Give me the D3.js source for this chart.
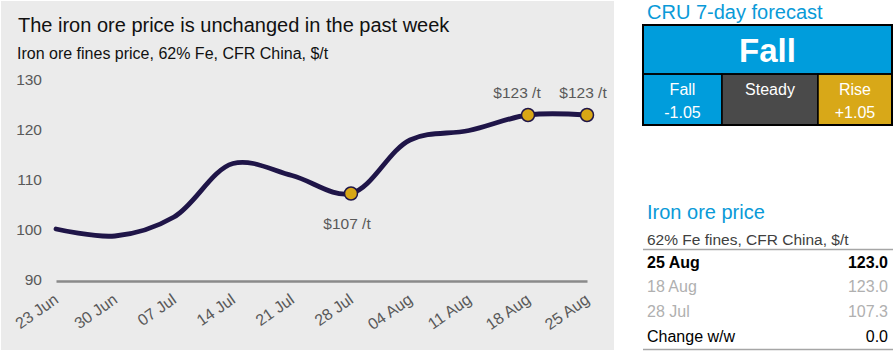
<!DOCTYPE html>
<html><head><meta charset="utf-8">
<script src="https://cdn.jsdelivr.net/npm/d3@7"></script>
<style>
html,body{margin:0;padding:0;background:#fff;}
svg{display:block;font-family:"Liberation Sans",Arial,sans-serif;}
</style></head>
<body>
<svg id="c" width="895" height="359"></svg>
<script>
// ---- data ----
const dates = ["2023-06-23","2023-06-30","2023-07-07","2023-07-14","2023-07-21","2023-07-28","2023-08-04","2023-08-11","2023-08-18","2023-08-25"];
const tickLabels = ["23 Jun","30 Jun","07 Jul","14 Jul","21 Jul","28 Jul","04 Aug","11 Aug","18 Aug","25 Aug"];
const prices = [100.2, 98.8, 102.6, 113.3, 110.9, 107.3, 118.0, 119.9, 123.0, 123.0];
const yTicks = [90, 100, 110, 120, 130];
const markedIdx = [5, 8, 9];
const markLabels = ["$107 /t", "$123 /t", "$123 /t"];
const markPos = ["below", "above", "above"];
const markDx = [-4, -11, -4];
const forecastTitle = "CRU 7-day forecast";
const forecastMain = "Fall";
const forecastCells = [["Fall","-1.05"],["Steady",""],["Rise","+1.05"]];
const tableTitle = "Iron ore price";
const tableSub = "62% Fe fines, CFR China, $/t";
const tableRows = [["25 Aug","123.0"],["18 Aug","123.0"],["28 Jul","107.3"],["Change w/w","0.0"]];

const svg = d3.select("#c");
const parse = d3.timeParse("%Y-%m-%d");
const data = dates.map((d,i)=>({date:parse(d), v:prices[i], label:tickLabels[i]}));
const FF = "Liberation Sans, Arial, sans-serif";

// panel
svg.append("rect").attr("x",1).attr("y",1).attr("width",613).attr("height",349).attr("fill","#ebebeb");

svg.append("text").attr("x",18).attr("y",32).attr("font-size",20).attr("fill","#111")
  .text("The iron ore price is unchanged in the past week");
svg.append("text").attr("x",17).attr("y",59).attr("font-size",16).attr("fill","#111")
  .text("Iron ore fines price, 62% Fe, CFR China, $/t");

const x = d3.scaleTime().domain(d3.extent(data,d=>d.date)).range([56,587]);
const y = d3.scaleLinear().domain([90,130]).range([280,80]);

// y axis labels
const ya = svg.append("g").attr("transform","translate(42,0)")
  .call(d3.axisLeft(y).tickValues(yTicks).tickSize(0).tickPadding(0).tickFormat(d3.format("d")));
ya.select(".domain").remove();
ya.selectAll("text").attr("font-size",15.5).attr("fill","#595959").attr("font-family",FF);

// x axis
const xa = svg.append("g").attr("transform","translate(0,281)")
  .call(d3.axisBottom(x).tickValues(data.map(d=>d.date)).tickSize(0).tickFormat((d,i)=>tickLabels[i]));
xa.select(".domain").attr("stroke","#8a8a8a").attr("stroke-width",2.5);
xa.selectAll("text").attr("font-size",16).attr("fill","#595959").attr("font-family",FF)
  .attr("text-anchor","end").attr("dy",null).attr("y",0)
  .attr("transform","translate(3,21) rotate(-35)");

// line
const line = d3.line().x(d=>x(d.date)).y(d=>y(d.v)).curve(d3.curveCatmullRom.alpha(0.5));
svg.append("path").datum(data).attr("d",line).attr("fill","none")
  .attr("stroke","#1f1548").attr("stroke-width",4.8).attr("stroke-linecap","round");

// markers
markedIdx.forEach((idx,k)=>{
  const d = data[idx];
  svg.append("circle").attr("cx",x(d.date)).attr("cy",y(d.v)).attr("r",6.5)
    .attr("fill","#d9a715").attr("stroke","#1f1548").attr("stroke-width",1.5);
  svg.append("text").attr("x",x(d.date)+markDx[k])
    .attr("y", markPos[k]==="above" ? y(d.v)-17 : y(d.v)+35)
    .attr("text-anchor","middle").attr("font-size",15.5).attr("fill","#595959").text(markLabels[k]);
});

// forecast box
svg.append("text").attr("x",647).attr("y",19).attr("font-size",20).attr("fill","#0a9ad8").text(forecastTitle);
const bx=643, bw=249, by=25;
svg.append("rect").attr("x",bx).attr("y",by).attr("width",bw).attr("height",49).attr("fill","#009ddc");
svg.append("text").attr("x",bx+bw/2).attr("y",62).attr("text-anchor","middle").attr("font-size",33)
  .attr("font-weight","bold").attr("fill","#fff").text(forecastMain);
const cellX=[643,722,818,892];
const cellFill=["#009ddc","#4a4a4a","#d8a818"];
forecastCells.forEach((c,i)=>{
  svg.append("rect").attr("x",cellX[i]).attr("y",74).attr("width",cellX[i+1]-cellX[i]).attr("height",51)
    .attr("fill",cellFill[i]).attr("stroke","#000").attr("stroke-width",1.5);
  const cx=(cellX[i]+cellX[i+1])/2;
  svg.append("text").attr("x",cx).attr("y",95).attr("text-anchor","middle").attr("font-size",16).attr("fill","#fff").text(c[0]);
  svg.append("text").attr("x",cx).attr("y",118).attr("text-anchor","middle").attr("font-size",16).attr("fill","#fff").text(c[1]);
});
svg.append("rect").attr("x",bx).attr("y",by).attr("width",bw).attr("height",100).attr("fill","none")
  .attr("stroke","#000").attr("stroke-width",2);
svg.append("line").attr("x1",bx).attr("x2",bx+bw).attr("y1",74).attr("y2",74).attr("stroke","#000").attr("stroke-width",1.5);

// table
svg.append("text").attr("x",647).attr("y",219).attr("font-size",20).attr("fill","#0a9ad8").text(tableTitle);
svg.append("text").attr("x",647).attr("y",245).attr("font-size",15.5).attr("fill","#404040").text(tableSub);
svg.append("line").attr("x1",643).attr("x2",893).attr("y1",249.5).attr("y2",249.5).attr("stroke","#a6a6a6").attr("stroke-width",1.5);
const rowY=[268,292,317,342];
const rowCol=["#000","#b0b0b0","#b0b0b0","#000"];
tableRows.forEach((r,i)=>{
  const fw = i===0?"bold":"normal";
  svg.append("text").attr("x",647).attr("y",rowY[i]).attr("font-size",16).attr("font-weight",fw).attr("fill",rowCol[i]).text(r[0]);
  svg.append("text").attr("x",888).attr("y",rowY[i]).attr("text-anchor","end").attr("font-size",16).attr("font-weight",fw).attr("fill",rowCol[i]).text(r[1]);
});
svg.append("line").attr("x1",643).attr("x2",893).attr("y1",349.5).attr("y2",349.5).attr("stroke","#a6a6a6").attr("stroke-width",1.5);
</script>
</body></html>
